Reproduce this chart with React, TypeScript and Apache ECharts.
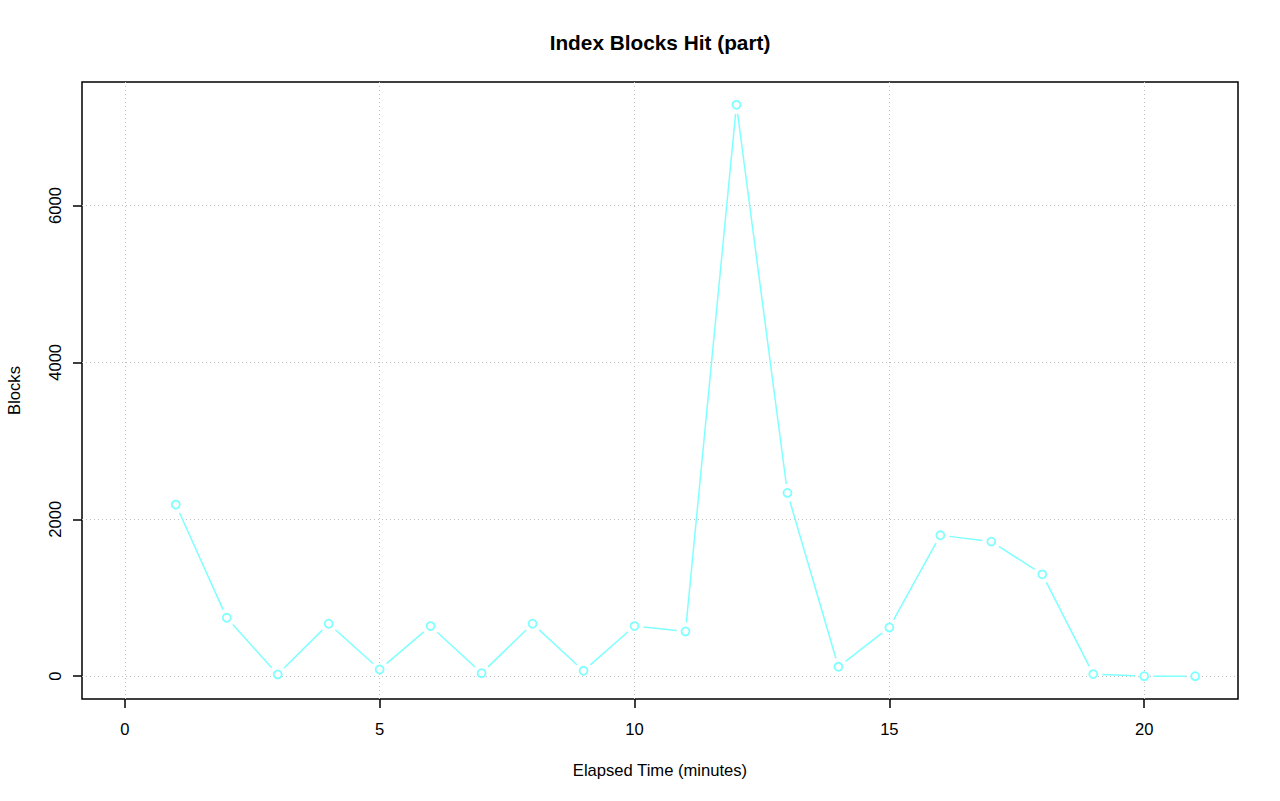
import React, { useEffect, useRef } from "react";
import * as echarts from "echarts";

const minutes = [1, 2, 3, 4, 5, 6, 7, 8, 9, 10, 11, 12, 13, 14, 15, 16, 17, 18, 19, 20, 21];
const blocks = [2187, 744, 22, 668, 85, 638, 38, 668, 68, 638, 570, 7283, 2336, 119, 621, 1796, 1715, 1298, 26, 0, 0];
const xTicks = [0, 5, 10, 15, 20];
const yTicks = [0, 2000, 4000, 6000];

const LINE_COLOR = "#80ffff";
const FONT = "'Liberation Sans', Arial, Helvetica, sans-serif";

export default function App() {
  const ref = useRef<HTMLDivElement>(null);

  useEffect(() => {
    if (!ref.current) return;
    const chart = echarts.init(ref.current, null, { renderer: "svg" });

    // R-style 4% axis expansion (xlim includes 0)
    const xLo = 0;
    const xHi = Math.max(...minutes);
    const xPad = (xHi - xLo) * 0.04;
    const yLo = Math.min(...blocks);
    const yHi = Math.max(...blocks);
    const yPad = (yHi - yLo) * 0.04;

    const points = minutes.map((m, i) => [m, blocks[i]]);
    const segments = minutes.slice(1).map((m, i) => [minutes[i], blocks[i], m, blocks[i + 1]]);

    const gap = 9;

    chart.setOption({
      animation: false,
      backgroundColor: "#ffffff",
      textStyle: { fontFamily: FONT },
      title: {
        text: "Index Blocks Hit (part)",
        left: 655,
        textAlign: "center",
        top: 27,
        textStyle: { fontFamily: FONT, fontSize: 20.8, fontWeight: "bold", color: "#000" },
      },
      grid: {
        left: 82,
        top: 82,
        width: 1156,
        height: 617,
        containLabel: false,
        outerBoundsMode: "none",
        show: true,
        borderColor: "#000",
        borderWidth: 1.5,
        backgroundColor: "transparent",
      },
      xAxis: {
        type: "value",
        min: xLo - xPad,
        max: xHi + xPad,
        name: "Elapsed Time (minutes)",
        nameLocation: "middle",
        nameGap: 63,
        nameTextStyle: { fontFamily: FONT, fontSize: 16.6, color: "#000" },
        axisLine: { show: false, onZero: false },
        axisTick: {
          show: true,
          inside: false,
          length: 9,
          customValues: xTicks,
          lineStyle: { color: "#000", width: 1.5 },
        },
        axisLabel: {
          customValues: xTicks,
          margin: 22,
          fontFamily: FONT,
          fontSize: 16.6,
          color: "#000",
          formatter: (v: number) => String(v),
        },
        splitLine: {
          show: true,
          lineStyle: { color: "#c0c0c0", type: [1, 3], width: 1 },
        },
      },
      yAxis: {
        type: "value",
        min: yLo - yPad,
        max: yHi + yPad,
        name: "Blocks",
        nameLocation: "middle",
        nameGap: 59,
        nameRotate: 90,
        nameTextStyle: { fontFamily: FONT, fontSize: 16.6, color: "#000" },
        axisLine: { show: false, onZero: false },
        axisTick: {
          show: true,
          inside: false,
          length: 9,
          customValues: yTicks,
          lineStyle: { color: "#000", width: 1.5 },
        },
        axisLabel: {
          customValues: yTicks,
          rotate: 90,
          margin: 18,
          fontFamily: FONT,
          fontSize: 16.6,
          color: "#000",
          formatter: (v: number) => String(v),
        },
        splitLine: {
          show: true,
          lineStyle: { color: "#c0c0c0", type: [1, 3], width: 1 },
        },
      },
      series: [
        {
          type: "custom",
          data: segments,
          encode: { x: [0, 2], y: [1, 3] },
          z: 2,
          renderItem: (params: any, api: any) => {
            const p0 = api.coord([api.value(0), api.value(1)]);
            const p1 = api.coord([api.value(2), api.value(3)]);
            const dx = p1[0] - p0[0];
            const dy = p1[1] - p0[1];
            const len = Math.sqrt(dx * dx + dy * dy);
            if (len <= 2 * gap) return { type: "group", children: [] };
            const ux = dx / len;
            const uy = dy / len;
            return {
              type: "line",
              shape: {
                x1: p0[0] + ux * gap,
                y1: p0[1] + uy * gap,
                x2: p1[0] - ux * gap,
                y2: p1[1] - uy * gap,
              },
              style: { stroke: LINE_COLOR, lineWidth: 1.5 },
            };
          },
        },
        {
          type: "scatter",
          data: points,
          symbol: "circle",
          symbolSize: 8,
          z: 3,
          itemStyle: { color: "#ffffff", borderColor: LINE_COLOR, borderWidth: 1.8, opacity: 1 },
        },
      ],
    });

    return () => chart.dispose();
  }, []);

  return (
    <div
      ref={ref}
      style={{ position: "absolute", left: 0, top: 0, width: 1280, height: 801 }}
    />
  );
}
